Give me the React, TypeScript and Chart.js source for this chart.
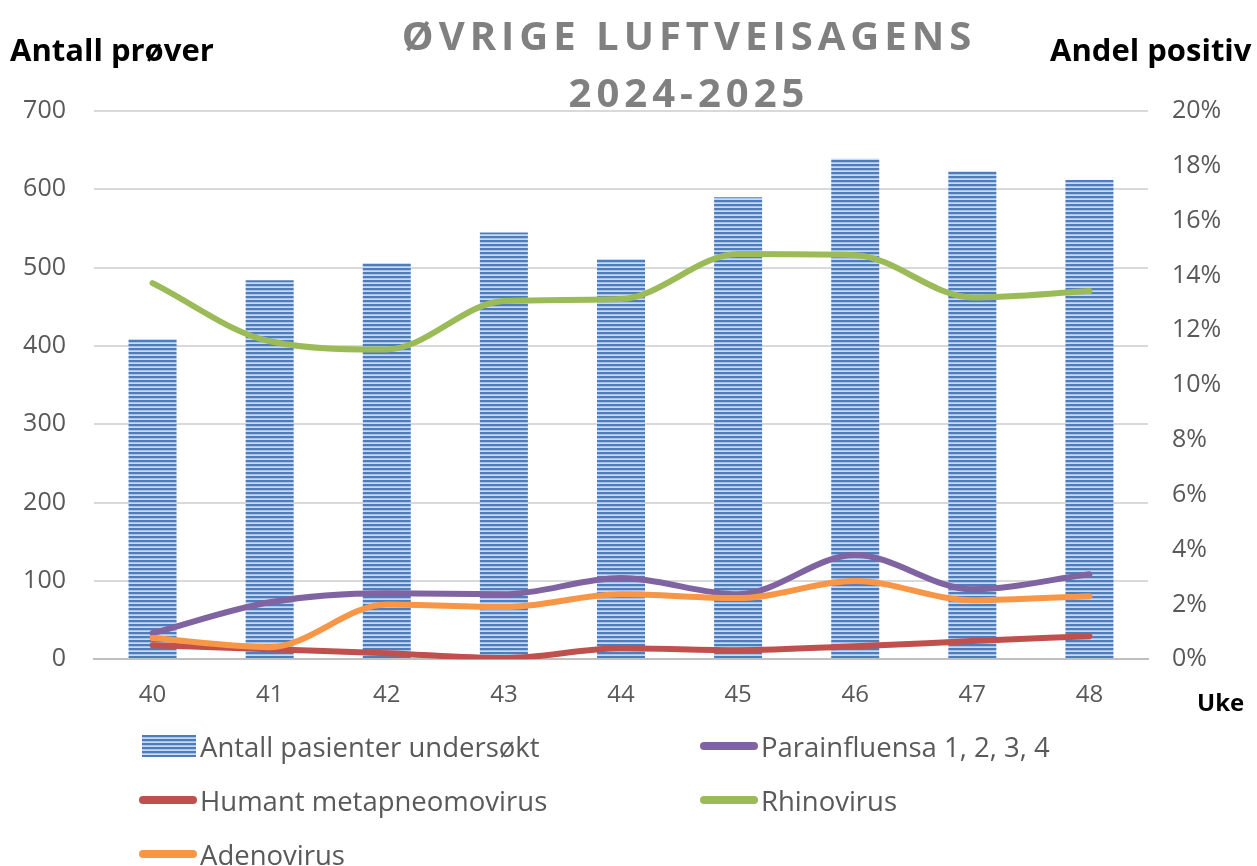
import React, { useEffect, useRef } from "react";
import { Chart, registerables } from "chart.js";

Chart.register(...registerables);

const weeks = ["40", "41", "42", "43", "44", "45", "46", "47", "48"];
const antallPasienter = [409, 484, 506, 545, 511, 590, 639, 623, 612];
const parainfluensa = [0.0095, 0.0208, 0.0241, 0.0237, 0.0296, 0.0237, 0.038, 0.0255, 0.031];
const metapneumo = [0.0051, 0.0036, 0.0022, 0.0004, 0.004, 0.0033, 0.0047, 0.0066, 0.0084];
const rhinovirus = [0.1372, 0.116, 0.113, 0.1307, 0.1314, 0.1478, 0.1474, 0.132, 0.1343];
const adenovirus = [0.0077, 0.0044, 0.02, 0.019, 0.0237, 0.0223, 0.0285, 0.0215, 0.023];

const FONT = "'Open Sans', 'Noto Sans', sans-serif";
const TXT = "#595959";

function makeStripeCanvas(w: number, h: number) {
  const c = document.createElement("canvas");
  c.width = w;
  c.height = h;
  const ctx = c.getContext("2d")!;
  for (let y = 0; y < h; y++) {
    const r = y % 4;
    ctx.fillStyle = r === 0 || r === 1 ? "#4E7DBE" : r === 2 ? "#A9C3E6" : "#C9DAF0";
    ctx.fillRect(0, y, w, 1);
  }
  return c;
}

const legendItems = [
  { label: "Antall pasienter undersøkt", type: "bar", color: "" },
  { label: "Parainfluensa 1, 2, 3, 4", type: "line", color: "#8064A2" },
  { label: "Humant metapneomovirus", type: "line", color: "#C0504D" },
  { label: "Rhinovirus", type: "line", color: "#9BBB59" },
  { label: "Adenovirus", type: "line", color: "#F79646" },
];

export default function App() {
  const ref = useRef<HTMLCanvasElement>(null);
  const swatchRef = useRef<HTMLCanvasElement>(null);

  useEffect(() => {
    const pc = makeStripeCanvas(4, 4);
    const ctx = ref.current!.getContext("2d")!;
    const pattern = ctx.createPattern(pc, "repeat")!;

    if (swatchRef.current) {
      const sctx = swatchRef.current.getContext("2d")!;
      sctx.drawImage(makeStripeCanvas(54, 22), 0, 0);
    }

    const lineDs = (label: string, data: number[], color: string, order: number) => ({
      type: "line" as const,
      label,
      data,
      borderColor: color,
      backgroundColor: color,
      borderWidth: 6,
      pointRadius: 0,
      cubicInterpolationMode: "monotone" as const,
      yAxisID: "y1",
      order,
      borderCapStyle: "round" as const,
    });

    const chart = new Chart(ref.current!, {
      type: "bar",
      data: {
        labels: weeks,
        datasets: [
          lineDs("Parainfluensa 1, 2, 3, 4", parainfluensa, "#8064A2", 4),
          lineDs("Humant metapneomovirus", metapneumo, "#C0504D", 3),
          lineDs("Rhinovirus", rhinovirus, "#9BBB59", 2),
          lineDs("Adenovirus", adenovirus, "#F79646", 1),
          {
            type: "bar",
            label: "Antall pasienter undersøkt",
            data: antallPasienter,
            backgroundColor: pattern as any,
            borderWidth: 0,
            categoryPercentage: 1,
            barPercentage: 0.41,
            yAxisID: "y",
            order: 10,
          },
        ],
      },
      options: {
        responsive: false,
        animation: false,
        layout: { padding: { top: 111, bottom: 142, left: 10, right: 0 } },
        plugins: {
          legend: { display: false },
          tooltip: { enabled: false },
          title: { display: false },
        },
        scales: {
          x: {
            grid: { display: false },
            border: { display: true, color: "#BFBFBF", width: 2 },
            ticks: { color: TXT, font: { family: FONT, size: 24 }, padding: 14 },
          },
          y: {
            position: "left",
            min: 0,
            max: 700,
            afterFit: (s: any) => {
              s.width = 84;
            },
            ticks: { stepSize: 100, color: TXT, font: { family: FONT, size: 25 }, padding: 28 },
            grid: { color: "#D9D9D9", lineWidth: 2, drawTicks: false },
            border: { display: false },
          },
          y1: {
            position: "right",
            min: 0,
            max: 0.2,
            afterFit: (s: any) => {
              s.width = 109;
            },
            ticks: {
              stepSize: 0.02,
              color: TXT,
              font: { family: FONT, size: 25 },
              padding: 24,
              callback: (v: any) => Math.round(Number(v) * 100) + "%",
            },
            grid: { display: false, drawTicks: false },
            border: { display: false },
          },
        },
      },
    });
    return () => chart.destroy();
  }, []);

  const boldStyle: React.CSSProperties = {
    position: "absolute",
    fontFamily: FONT,
    fontWeight: 700,
    color: "#000",
    fontSize: 31,
    whiteSpace: "nowrap",
    lineHeight: 1,
  };

  return (
    <div style={{ position: "fixed", left: 0, top: 0, width: 1257, height: 866, background: "#fff", overflow: "hidden" }}>
      <canvas ref={ref} width={1257} height={866} style={{ position: "absolute", left: 0, top: 0 }} />
      <div
        style={{
          position: "absolute",
          left: 0,
          width: 1378,
          top: 6,
          textAlign: "center",
          fontFamily: FONT,
          fontWeight: 700,
          fontSize: 40,
          letterSpacing: 5,
          color: "#808080",
          lineHeight: "57px",
        }}
      >
        ØVRIGE LUFTVEISAGENS
        <br />
        2024-2025
      </div>
      <div style={{ ...boldStyle, left: 10, top: 34 }}>Antall prøver</div>
      <div style={{ ...boldStyle, left: 1050, top: 34 }}>Andel positiv</div>
      <div style={{ ...boldStyle, left: 1197, top: 690, fontSize: 24 }}>Uke</div>
      {legendItems.map((it, i) => {
        const col = i % 2;
        const row = Math.floor(i / 2);
        const left = col === 0 ? 139 : 700;
        const top = 727 + row * 54;
        return (
          <div key={i} style={{ position: "absolute", left, top, display: "flex", alignItems: "center", height: 38 }}>
            {it.type === "bar" ? (
              <canvas ref={swatchRef} width={54} height={22} style={{ width: 54, height: 22, marginLeft: 3, marginRight: 4 }} />
            ) : (
              <div style={{ width: 58, height: 8, borderRadius: 4, background: it.color, marginRight: 3 }} />
            )}
            <span style={{ fontFamily: FONT, fontSize: 27.5, color: TXT, whiteSpace: "nowrap" }}>{it.label}</span>
          </div>
        );
      })}
    </div>
  );
}
